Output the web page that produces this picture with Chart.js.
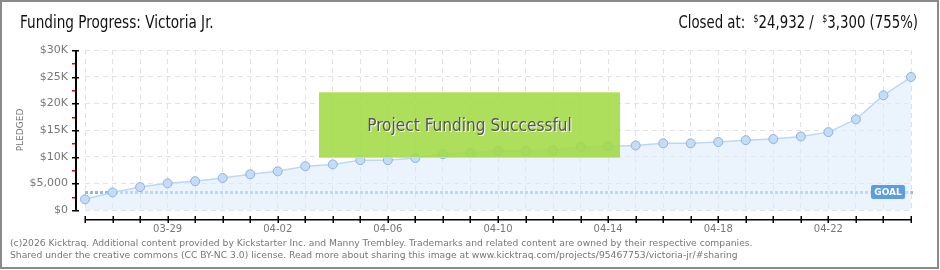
<!DOCTYPE html>
<html>
<head>
<meta charset="utf-8">
<script src="https://cdn.jsdelivr.net/npm/chart.js@4"></script>
<style>
  body { margin: 0; background: #fff; }
  #wrap { width: 940px; height: 270px; }
</style>
</head>
<body>
<div id="wrap"><canvas id="chart" width="940" height="270"></canvas></div>
<script>
// data
const dates = ['03-26','03-27','03-28','03-29','03-30','03-31','04-01','04-02','04-03','04-04',
  '04-05','04-06','04-07','04-08','04-09','04-10','04-11','04-12','04-13','04-14',
  '04-15','04-16','04-17','04-18','04-19','04-20','04-21','04-22','04-23','04-24','04-25'];
const pledged = [2000, 3300, 4300, 5000, 5400, 6000, 6700, 7250, 8200, 8550,
  9350, 9350, 9750, 10450, 10700, 11100, 11050, 11200, 11800, 11950,
  12100, 12500, 12500, 12750, 13100, 13300, 13800, 14600, 17000, 21500, 24932];
const goalValue = 3300;
const yTicks = [0, 5000, 10000, 15000, 20000, 25000, 30000];
const yTickLabels = ['$0', '$5,000', '$10K', '$15K', '$20K', '$25K', '$30K'];

const titleText = 'Funding Progress: Victoria Jr.';
const footerLines = [
  '(c)2026 Kicktraq. Additional content provided by Kickstarter Inc. and Manny Trembley. Trademarks and related content are owned by their respective companies.',
  'Shared under the creative commons (CC BY-NC 3.0) license. Read more about sharing this image at www.kicktraq.com/projects/95467753/victoria-jr/#sharing'
];

const headFont = '"Liberation Sans Narrow", "DejaVu Sans Condensed", sans-serif';
const tickFont = '"DejaVu Sans", sans-serif';

// squeezed text, the original uses a tall narrow face
function narrowText(ctx, text, x, y, sx) {
  ctx.save();
  ctx.translate(x, y);
  ctx.scale(sx, 1);
  ctx.fillText(text, 0, 0);
  ctx.restore();
  return ctx.measureText(text).width * sx;
}

const decorPlugin = {
  id: 'kicktraqDecor',
  beforeDatasetsDraw: (chart) => {
    const ctx = chart.ctx;
    const area = chart.chartArea;
    const y = Math.round(chart.scales.y.getPixelForValue(goalValue));
    ctx.save();
    ctx.fillStyle = '#94b9e6';
    for (let x = area.left; x < area.right; x += 5) {
      ctx.fillRect(x, y - 1, 3, 3);
    }
    ctx.restore();
  },
  afterDatasetsDraw: (chart) => {
    const ctx = chart.ctx;
    const area = chart.chartArea;
    const xs = chart.scales.x;
    const ys = chart.scales.y;
    ctx.save();

    // goal tag
    const gy = Math.round(ys.getPixelForValue(goalValue));
    const gx = area.right - 40;
    ctx.fillStyle = '#5c9ddf';
    ctx.beginPath();
    ctx.roundRect(gx, gy - 7, 34, 14, 2);
    ctx.fill();
    ctx.fillStyle = '#fff';
    ctx.font = 'bold 9px ' + tickFont;
    ctx.textAlign = 'center';
    ctx.textBaseline = 'middle';
    ctx.fillText('GOAL', gx + 17, gy + 0.5);

    // success banner
    const bx = xs.getPixelForValue(8.5);
    const bw = 301;
    const by = 92, bh = 66;
    ctx.fillStyle = 'rgba(162, 218, 70, 0.88)';
    ctx.fillRect(bx, by, bw, bh);
    ctx.fillStyle = 'rgba(200, 235, 130, 0.9)';
    ctx.fillRect(bx, by, bw, 1);
    ctx.fillRect(bx, by + bh - 1, bw, 1);
    ctx.font = '18px ' + headFont;
    ctx.textAlign = 'left';
    const bannerText = 'Project Funding Successful';
    const bwText = ctx.measureText(bannerText).width * 0.95;
    ctx.fillStyle = '#fff';
    narrowText(ctx, bannerText, bx + (bw - bwText) / 2 + 1, by + bh / 2 + 2, 0.95);
    ctx.fillStyle = '#555';
    narrowText(ctx, bannerText, bx + (bw - bwText) / 2, by + bh / 2 + 1, 0.95);

    // y axis line with ticks
    const top = Math.round(ys.getPixelForValue(30000));
    const bottom = Math.round(ys.getPixelForValue(0));
    ctx.fillStyle = '#000';
    ctx.fillRect(75, top, 2, bottom - top + 1);
    yTicks.forEach(v => {
      const ty = Math.round(ys.getPixelForValue(v));
      ctx.fillRect(72, ty, 7, 1.5);
    });
    ctx.fillStyle = '#e00';
    for (let i = 0; i < yTicks.length - 1; i++) {
      const ty = Math.round(ys.getPixelForValue((yTicks[i] + yTicks[i + 1]) / 2));
      ctx.fillRect(72, ty, 3, 1.5);
    }

    // x axis line with ticks
    const ay = 220;
    ctx.fillStyle = '#000';
    ctx.fillRect(area.left, ay - 1, area.right - area.left, 1.5);
    dates.forEach((d, i) => {
      const tx = Math.round(xs.getPixelForValue(i));
      ctx.fillRect(tx - 0.5, ay - 4, 1.5, 7);
    });

    // pledged axis title
    ctx.save();
    ctx.translate(21, (area.top + area.bottom) / 2);
    ctx.rotate(-Math.PI / 2);
    ctx.fillStyle = '#777';
    ctx.textAlign = 'center';
    ctx.font = '9px ' + tickFont;
    ctx.fillText('PLEDGED', 0, 0);
    ctx.restore();

    // header
    ctx.fillStyle = '#111';
    ctx.font = '17px ' + headFont;
    ctx.textAlign = 'left';
    narrowText(ctx, titleText, 20, 24, 0.89);

    const sx = 0.87;
    const parts = [
      ['Closed at:  ', 17, 0], ['$', 10, -5], ['24,932 /  ', 17, 0],
      ['$', 10, -5], ['3,300 (755%)', 17, 0]
    ];
    let total = 0;
    parts.forEach(p => { ctx.font = p[1] + 'px ' + headFont; total += ctx.measureText(p[0]).width * sx; });
    let px = 918 - total;
    parts.forEach(p => {
      ctx.font = p[1] + 'px ' + headFont;
      px += narrowText(ctx, p[0], px, 24 + p[2], sx);
    });

    // footer
    ctx.fillStyle = '#777';
    ctx.font = '9.2px ' + tickFont;
    ctx.fillText(footerLines[0], 10, 244);
    ctx.fillText(footerLines[1], 10, 256);

    // frame
    ctx.strokeStyle = '#8a8a8a';
    ctx.lineWidth = 2;
    ctx.strokeRect(1, 1, 937, 267);
    ctx.restore();
  }
};

new Chart(document.getElementById('chart'), {
  type: 'line',
  data: {
    labels: dates,
    datasets: [{
      data: pledged,
      borderColor: '#bad8f6',
      borderWidth: 1.5,
      backgroundColor: 'rgba(222, 236, 251, 0.6)',
      fill: 'origin',
      tension: 0,
      pointRadius: 4.5,
      pointBorderWidth: 1,
      pointBackgroundColor: '#c3ddf8',
      pointBorderColor: '#90b2dc'
    }]
  },
  options: {
    responsive: false,
    devicePixelRatio: 1,
    animation: false,
    layout: { padding: { top: 50, right: 29, left: 0, bottom: 0 } },
    plugins: { legend: { display: false }, tooltip: { enabled: false } },
    scales: {
      x: {
        afterFit: s => { s.height = 60; },
        grid: { color: '#e2e2e2', drawTicks: false },
        border: { display: false, dash: [5, 4] },
        ticks: {
          autoSkip: false,
          maxRotation: 0,
          padding: 13,
          color: '#777',
          font: { family: tickFont, size: 10 },
          callback: (v, i) => (i % 4 === 3 ? dates[i] : '')
        }
      },
      y: {
        min: 0,
        max: 30000,
        afterFit: s => { s.width = 85; },
        grid: { color: '#e2e2e2', drawTicks: false },
        border: { display: false, dash: [5, 4] },
        ticks: {
          stepSize: 5000,
          padding: 17,
          color: '#777',
          font: { family: tickFont, size: 11 },
          callback: v => yTickLabels[yTicks.indexOf(v)]
        }
      }
    }
  },
  plugins: [decorPlugin]
});
</script>
</body>
</html>
